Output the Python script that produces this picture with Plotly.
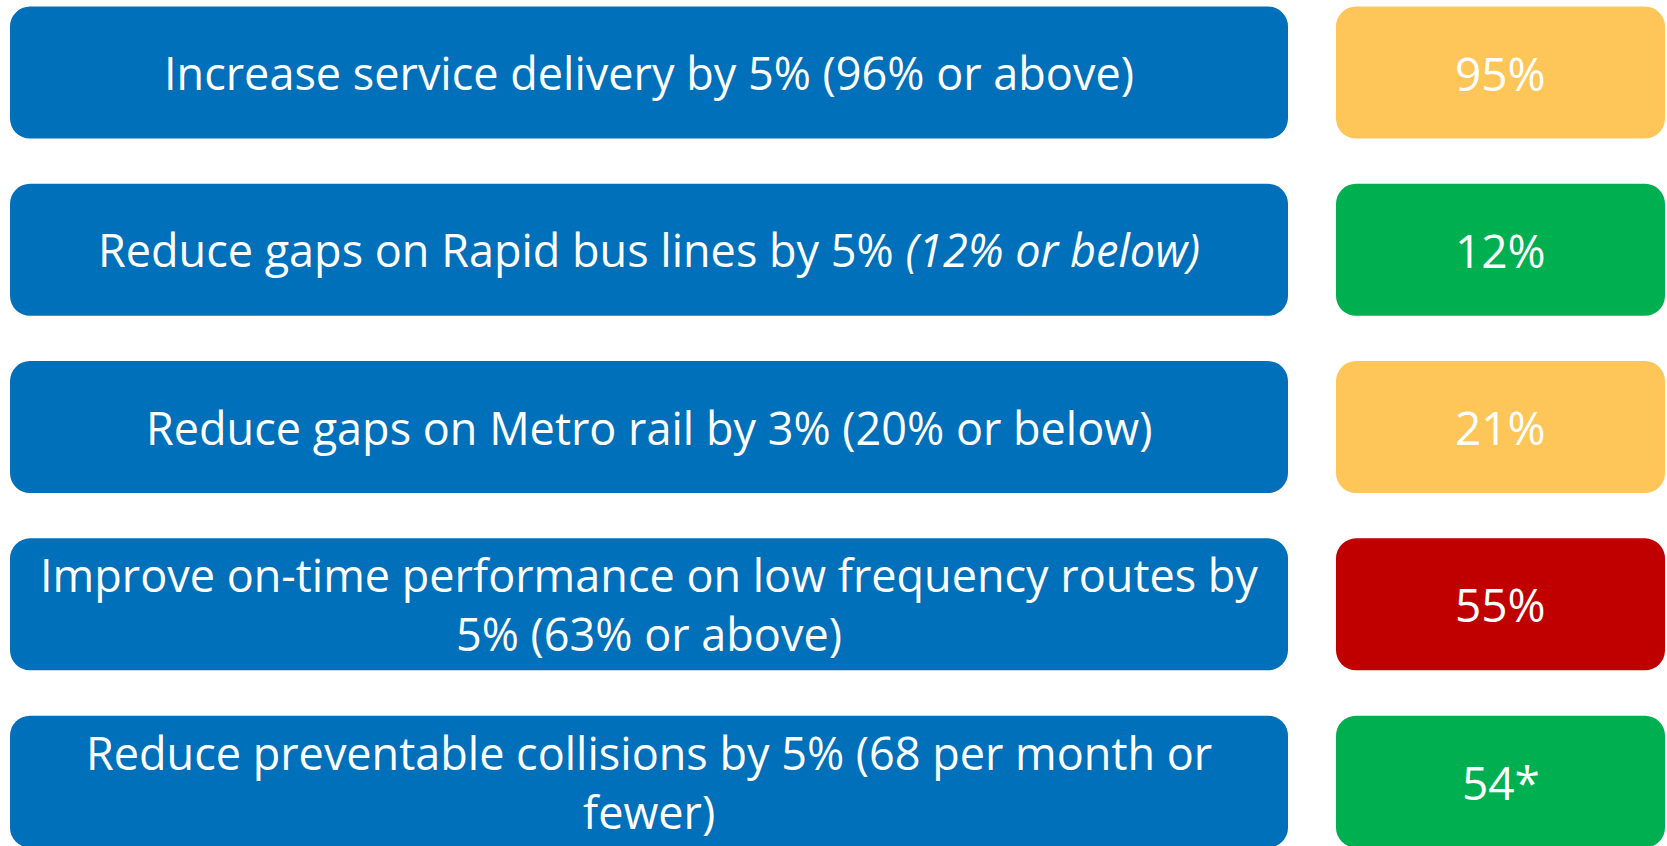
import plotly.graph_objects as go

goals = [
    "Increase service delivery by 5% (96% or above)",
    "Reduce gaps on Rapid bus lines by 5% <i>(12% or below)</i>",
    "Reduce gaps on Metro rail by 3% (20% or below)",
    "Improve on-time performance on low frequency routes by<br>5% (63% or above)",
    "Reduce preventable collisions by 5% (68 per month or<br>fewer)",
]
results = ["95%", "12%", "21%", "55%", "54*"]
status_colors = ["#FEC659", "#00B050", "#FEC659", "#C00000", "#00B050"]

rows = list(range(len(goals)))
BLUE = "#0070BA"
FONT = "Open Sans"
FS = 45
FS_RES = 46

W, H = 1667, 846
goal_base, goal_len = 10, 1278
res_base, res_len = 1336, 329

fig = go.Figure()
fig.add_trace(go.Bar(
    y=rows, x=[goal_len] * len(rows), base=[goal_base] * len(rows),
    orientation="h", marker=dict(color=BLUE, cornerradius=20, line_width=0),
    hoverinfo="skip", showlegend=False,
))
fig.add_trace(go.Bar(
    y=rows, x=[res_len] * len(rows), base=[res_base] * len(rows),
    orientation="h", marker=dict(color=status_colors, cornerradius=20, line_width=0),
    hoverinfo="skip", showlegend=False,
))

for r, g, v in zip(rows, goals, results):
    fig.add_annotation(x=goal_base + goal_len / 2, y=r, text=g, showarrow=False,
                       font=dict(family=FONT, size=FS, color="white"),
                       xanchor="center", yanchor="middle", align="center")
    fig.add_annotation(x=res_base + res_len / 2, y=r, text=v, showarrow=False,
                       font=dict(family=FONT, size=FS_RES, color="white"),
                       xanchor="center", yanchor="middle")

fig.update_layout(
    width=W, height=H, margin=dict(l=0, r=0, t=0, b=0),
    paper_bgcolor="white", plot_bgcolor="white",
    barmode="overlay", bargap=0.2555,
    xaxis=dict(range=[0, W], visible=False, fixedrange=True),
    yaxis=dict(range=[4.363, -0.409], visible=False, fixedrange=True),
)
fig.write_html("out.html", config={"displayModeBar": False},
               post_script="document.body.style.margin='0';document.body.style.overflow='hidden';")
